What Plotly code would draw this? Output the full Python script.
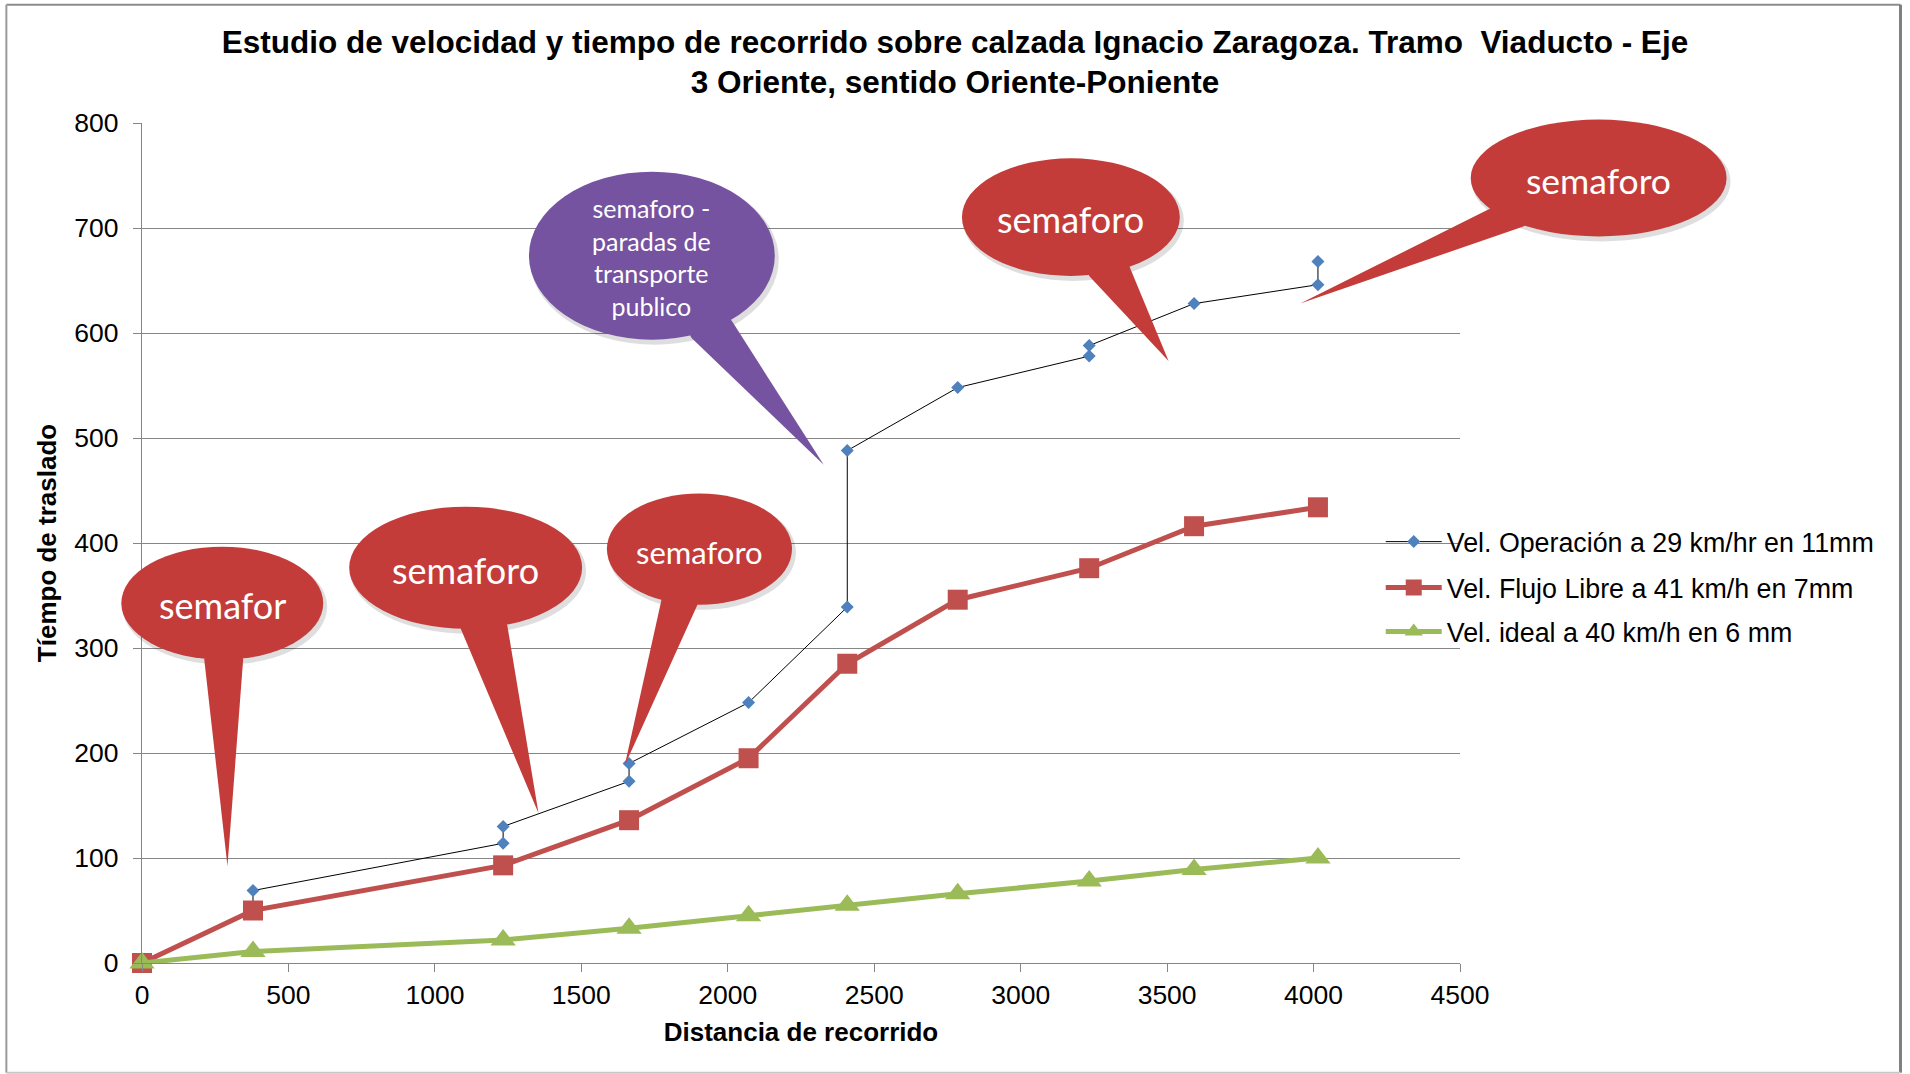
import plotly.graph_objects as go

# ---- data -----------------------------------------------------------------
# Distance along the route (m) where each measurement was taken
dist = [0, 379, 1233, 1663, 2071, 2408, 2785, 3234, 3592, 4015]

# Operating speed run: repeated distances mark time spent stopped at that point
op_dist = [0, 379, 379, 1233, 1233, 1663, 1663, 2071, 2408, 2408,
           2785, 3234, 3234, 3592, 4015, 4015]
op_time = [0, 50, 69, 114, 130, 173, 190, 248, 339, 488,
           548, 578, 588, 628, 646, 668]

# Free-flow and ideal runs (s)
flujo_libre = [0, 50, 93, 136, 195, 285, 346, 376, 416, 434]
ideal = [0, 11, 22, 33, 45, 55, 66, 78, 89, 100]

series_names = [
    "Vel. Operación a 29 km/hr en 11mm",
    "Vel. Flujo Libre a 41 km/h en 7mm",
    "Vel. ideal a 40 km/h en 6 mm",
]

x_ticks = [0, 500, 1000, 1500, 2000, 2500, 3000, 3500, 4000, 4500]
y_ticks = [0, 100, 200, 300, 400, 500, 600, 700, 800]

title_text = ("Estudio de velocidad y tiempo de recorrido sobre calzada Ignacio "
              "Zaragoza. Tramo  Viaducto - Eje<br>3 Oriente, sentido Oriente-Poniente")
x_title = "Distancia de recorrido"
y_title = "Tíempo de traslado"

callout_texts = ["semafor", "semaforo", "semaforo",
                 "semaforo -<br>paradas de<br>transporte<br>publico",
                 "semaforo", "semaforo"]

# ---- page geometry (pixels) ----------------------------------------------
W, H = 1910, 1074
PL, PR, PT, PB = 141.7, 1460.3, 123.3, 963.3


def px(x):
    return (x - PL) / (PR - PL)


def py(y):
    return (PB - y) / (PB - PT)


RED = "#C43C3A"
PURPLE = "#7553A0"

# callout bubbles: ellipse centre/radii, tail base points, tail tip, text
callout_geom = [
    dict(c=(222, 603.5), r=(101, 56.5), base=[(204, 659.7), (242.9, 659.7)],
         tip=(227.2, 866.4), ty=605, size=36, color=RED),
    dict(c=(465.5, 568), r=(116.5, 61), base=[(460.7, 629.3), (507.1, 625.3)],
         tip=(538.4, 813.6), ty=570.7, size=36, color=RED),
    dict(c=(699.4, 549.4), r=(92.6, 55.7), base=[(661.6, 599.4), (697.3, 605.2)],
         tip=(624.6, 765.9), ty=551.8, size=31, color=RED),
    dict(c=(651.8, 256), r=(123, 84), base=[(731.7, 321), (691.5, 338.2)],
         tip=(823.7, 465.1), ty=257.5, size=25, color=PURPLE),
    dict(c=(1071, 217.4), r=(109, 58.8), base=[(1089.3, 276.2), (1129.5, 266.5)],
         tip=(1168.75, 361.2), ty=218.8, size=36, color=RED),
    dict(c=(1599, 178.3), r=(128, 58.4), base=[(1490.6, 208.8), (1523.7, 226.8)],
         tip=(1300.4, 303.8), ty=181.3, size=35.5, color=RED),
]

# ---- traces ---------------------------------------------------------------
fig = go.Figure()
fig.add_trace(go.Scatter(
    x=op_dist, y=op_time, name=series_names[0], mode="lines+markers",
    line=dict(color="#000000", width=1),
    marker=dict(symbol="diamond", size=10, color="#4F81BD"),
    cliponaxis=False, legend="legend",
))
fig.add_trace(go.Scatter(
    x=dist, y=flujo_libre, name=series_names[1], mode="lines+markers",
    line=dict(color="#C0504D", width=5),
    marker=dict(symbol="square", size=20, color="#C0504D"),
    cliponaxis=False, legend="legend2",
))
fig.add_trace(go.Scatter(
    x=dist, y=ideal, name=series_names[2], mode="lines+markers",
    line=dict(color="#9BBB59", width=5),
    marker=dict(symbol="triangle-up", size=22, color="#9BBB59"),
    cliponaxis=False, legend="legend3",
))

# ---- callouts -------------------------------------------------------------
shapes = []
annotations = []
for g, text in zip(callout_geom, callout_texts):
    cx, cy = g["c"]
    rx, ry = g["r"]
    # soft drop shadow
    shapes.append(dict(type="circle", xref="paper", yref="paper",
                       x0=px(cx - rx + 1), x1=px(cx + rx + 4),
                       y0=py(cy + ry + 5), y1=py(cy - ry + 2),
                       fillcolor="rgba(0,0,0,0.13)", line=dict(width=0)))
    (bx1, by1), (bx2, by2) = g["base"]
    tx, ty = g["tip"]
    path = (f"M{px(bx1)},{py(by1)} L{px(tx)},{py(ty)} L{px(bx2)},{py(by2)} "
            f"L{px(cx)},{py(cy)} Z")
    shapes.append(dict(type="path", xref="paper", yref="paper", path=path,
                       fillcolor=g["color"], line=dict(width=0)))
    shapes.append(dict(type="circle", xref="paper", yref="paper",
                       x0=px(cx - rx), x1=px(cx + rx),
                       y0=py(cy + ry), y1=py(cy - ry),
                       fillcolor=g["color"], line=dict(width=0)))
    annotations.append(dict(xref="paper", yref="paper", x=px(cx), y=py(g["ty"]),
                            text=text, showarrow=False,
                            font=dict(family="Lato", size=g["size"], color="white"),
                            xanchor="center", yanchor="middle"))

# chart frame
frame = [((6, 5), (1901, 5), "#8C8C8C", 2),
         ((6, 5), (6, 1073), "#9A9A9A", 2),
         ((1901, 5), (1901, 1073), "#808080", 3),
         ((6, 1073), (1901, 1073), "#C8C8C8", 2)]
for (x0, y0), (x1, y1), col, wdt in frame:
    shapes.append(dict(type="line", xref="paper", yref="paper",
                       x0=px(x0), y0=py(y0), x1=px(x1), y1=py(y1),
                       line=dict(color=col, width=wdt), layer="below"))

FONT = "Arial, Liberation Sans, sans-serif"
legend_common = dict(xanchor="left", yanchor="middle", bgcolor="rgba(0,0,0,0)",
                     borderwidth=0, itemwidth=56,
                     font=dict(family=FONT, size=26.8, color="#000000"))

fig.update_layout(
    width=W, height=H, autosize=False,
    margin=dict(l=PL, r=W - PR, t=PT, b=H - PB, pad=0),
    paper_bgcolor="white", plot_bgcolor="white",
    font=dict(family=FONT, color="#000000"),
    title=dict(text=title_text, x=0.5, xref="container", xanchor="center",
               y=1 - 52.5 / H, yref="container", yanchor="middle",
               font=dict(family=FONT, size=31.5, color="#000000", weight="bold")),
    xaxis=dict(range=[0, 4500], tickvals=x_ticks, showgrid=False,
               showline=True, linecolor="#868686", linewidth=1.3,
               ticks="outside", ticklen=8, tickcolor="#868686", tickwidth=1.3,
               tickfont=dict(size=26.5), zeroline=False, ticklabelstandoff=0,
               title=dict(text=x_title, standoff=13,
                          font=dict(size=26, weight="bold"))),
    yaxis=dict(range=[0, 800], tickvals=y_ticks, showgrid=True,
               gridcolor="#868686", gridwidth=1.3,
               showline=True, linecolor="#868686", linewidth=1.3,
               ticks="outside", ticklen=8, tickcolor="#868686", tickwidth=1.3,
               tickfont=dict(size=26.5), zeroline=False, ticklabelstandoff=9,
               title=dict(text=y_title, standoff=10,
                          font=dict(size=26, weight="bold"))),
    legend=dict(x=px(1381), y=py(542), **legend_common),
    legend2=dict(x=px(1381), y=py(588), **legend_common),
    legend3=dict(x=px(1381), y=py(632), **legend_common),
    shapes=shapes,
    annotations=annotations,
    showlegend=True,
)

fig.write_html("out.html", config={"displayModeBar": False})
